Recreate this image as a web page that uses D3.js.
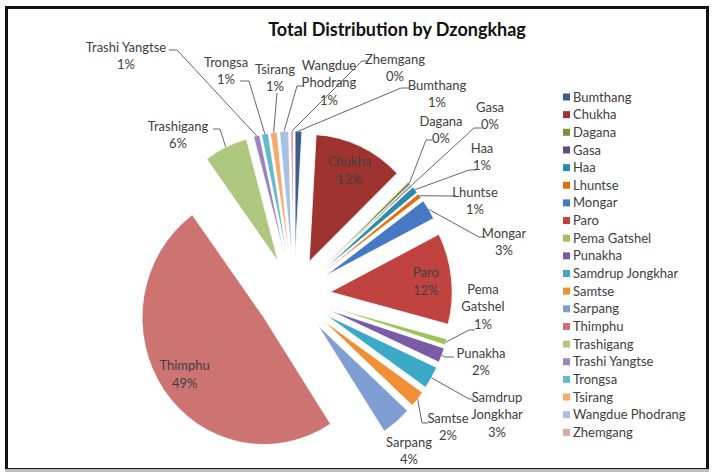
<!DOCTYPE html>
<html>
<head>
<meta charset="utf-8">
<script src="https://cdn.jsdelivr.net/npm/d3@7"></script>
<style>
  body { margin: 0; background: #fff; }
  text { font-family: Lato, "Open Sans", sans-serif; }
</style>
</head>
<body>
<svg id="chart" width="713" height="474"></svg>
<script>
// Share of the total (percent) for each dzongkhag, in legend order
const dzongkhags = [
  "Bumthang", "Chukha", "Dagana", "Gasa", "Haa", "Lhuntse", "Mongar", "Paro",
  "Pema Gatshel", "Punakha", "Samdrup Jongkhar", "Samtse", "Sarpang", "Thimphu",
  "Trashigang", "Trashi Yangtse", "Trongsa", "Tsirang", "Wangdue Phodrang", "Zhemgang"
];
const shares = [
  0.9, 11.9, 0.4, 0.2, 0.9, 0.6, 2.6, 11.6,
  0.8, 1.9, 2.9, 2.1, 4.0, 49.2,
  5.8, 0.8, 0.9, 0.9, 1.2, 0.4
];
const sliceColors = [
  "#3a5f8f", "#9e3330", "#77933c", "#5f4b8b", "#2f8ca8", "#e46c0a", "#4678c4", "#c0433f",
  "#9fc25a", "#7a5ba6", "#3ca9c7", "#f28e33", "#7f9ed4", "#cd7473",
  "#aec97f", "#9a85be", "#66bad0", "#f8aa6c", "#a8c0e4", "#ddaaa9"
];
const chartTitle = "Total Distribution by Dzongkhag";

// Slices whose label sits inside the wedge
const insideLabels = new Set(["Chukha", "Paro", "Thimphu"]);

// Placement of the outside labels: text block centre (x, y of first line),
// leader knee (kx, ky) and a short horizontal dash towards the text
const labelLayout = {
  "Bumthang":         { x: 437, y: 85,  kx: 401, ky: 88,  dash: 9 },
  "Dagana":           { x: 441, y: 121, kx: 426, ky: 140, dash: 6 },
  "Gasa":             { x: 490, y: 107, kx: 474, ky: 128, dash: 8 },
  "Haa":              { x: 482, y: 148, kx: 469, ky: 170, dash: 7 },
  "Lhuntse":          { x: 475, y: 192, kx: 450, ky: 196, dash: 6 },
  "Mongar":           { x: 504, y: 233, kx: 479, ky: 237, dash: 7 },
  "Pema Gatshel":     { x: 483, y: 289, kx: 469, ky: 330, dash: 6, wrap: true },
  "Punakha":          { x: 481, y: 353, kx: 445, ky: 357, dash: 9 },
  "Samdrup Jongkhar": { x: 497, y: 397, kx: 469, ky: 399, dash: 5, wrap: true },
  "Samtse":           { x: 448, y: 418, kx: 422, ky: 423, dash: 6 },
  "Sarpang":          { x: 409, y: 442, noLeader: true },
  "Trashigang":       { x: 178, y: 126, kx: 220, ky: 129, dash: -7 },
  "Trashi Yangtse":   { x: 126, y: 47,  kx: 177, ky: 50,  dash: -8 },
  "Trongsa":          { x: 226, y: 62,  kx: 249, ky: 81,  dash: -9 },
  "Tsirang":          { x: 275, y: 69,  kx: 277, ky: 93,  dash: 0 },
  "Wangdue Phodrang": { x: 329, y: 65,  kx: 297, ky: 86,  dash: 6, wrap: true },
  "Zhemgang":         { x: 395, y: 59,  kx: 362, ky: 61,  dash: 5 }
};

const W = 713, H = 474;
const cx = 294, cy = 296;       // pie centre
const radius = 127;             // wedge radius
const explode = 38;             // distance each wedge is pulled out
const sx = 0.96;                // horizontal squeeze of the pie
const fontSize = 13;
const lineGap = 17.5;
const textColor = "#404040";

const svg = d3.select("#chart");

// Chart frame
svg.append("rect").attr("width", W).attr("height", H).attr("fill", "#fff");
svg.append("rect")
  .attr("x", 6.5).attr("y", 7.5).attr("width", 701).attr("height", 462)
  .attr("fill", "#fff").attr("stroke", "#111").attr("stroke-width", 3);
svg.append("line")
  .attr("x1", 5).attr("x2", 709).attr("y1", 470.5).attr("y2", 470.5)
  .attr("stroke", "#bdbdbd").attr("stroke-width", 3);

// Title
svg.append("text")
  .attr("x", 397).attr("y", 36)
  .attr("text-anchor", "middle")
  .attr("font-size", 18).attr("font-weight", "bold")
  .attr("fill", "#111")
  .text(chartTitle);

const rows = dzongkhags.map((name, i) => ({ name, value: shares[i], color: sliceColors[i] }));
const total = d3.sum(rows, d => d.value);
const pct = v => Math.round(v / total * 100) + "%";

const pie = d3.pie().value(d => d.value).sort(null).startAngle(0).endAngle(2 * Math.PI);
const arcs = pie(rows);
const arc = d3.arc().innerRadius(0).outerRadius(radius);

const midAngle = a => (a.startAngle + a.endAngle) / 2;
// Pie-local point (before squeeze) at distance r along a wedge's bisector, plus the explode offset
const local = (a, r) => {
  const t = midAngle(a);
  return [(explode + r) * Math.sin(t), -(explode + r) * Math.cos(t)];
};
const toPage = ([x, y]) => [cx + sx * x, cy + y];

// Wedges
const pieG = svg.append("g").attr("transform", `translate(${cx},${cy}) scale(${sx},1)`);
pieG.selectAll("path.slice")
  .data(arcs)
  .join("path")
  .attr("class", "slice")
  .attr("transform", a => {
    const t = midAngle(a);
    return `translate(${explode * Math.sin(t)},${-explode * Math.cos(t)})`;
  })
  .attr("d", arc)
  .attr("fill", a => a.data.color)
  .attr("stroke", "#fff")
  .attr("stroke-width", 0.8)
  .attr("vector-effect", "non-scaling-stroke");

// Labels
const labelG = svg.append("g")
  .attr("font-size", fontSize)
  .attr("fill", textColor)
  .attr("text-anchor", "middle");

function writeBlock(x, y, lines) {
  const t = labelG.append("text").attr("x", x).attr("y", y);
  lines.forEach((ln, i) => {
    t.append("tspan").attr("x", x).attr("dy", i === 0 ? "0.35em" : lineGap).text(ln);
  });
}

arcs.forEach(a => {
  const name = a.data.name;
  const valueText = pct(a.data.value);
  if (insideLabels.has(name)) {
    const [x, y] = toPage(local(a, radius * 0.79));
    writeBlock(x, y - lineGap / 2, [name, valueText]);
    return;
  }
  const L = labelLayout[name];
  if (!L) return;
  const lines = L.wrap ? name.split(" ").concat([valueText]) : [name, valueText];
  writeBlock(L.x, L.y, lines);
  if (L.noLeader) return;
  const p0 = toPage(local(a, radius));
  const pts = [p0, [L.kx, L.ky]];
  if (L.dash) pts.push([L.kx + L.dash, L.ky]);
  svg.append("path")
    .attr("d", d3.line()(pts))
    .attr("fill", "none")
    .attr("stroke", "#555")
    .attr("stroke-width", 0.9);
});

// Legend
const legendX = 563, legendY = 97, legendStep = 17.65;
const legend = svg.append("g").attr("font-size", fontSize).attr("fill", textColor);
const item = legend.selectAll("g")
  .data(rows)
  .join("g")
  .attr("transform", (d, i) => `translate(${legendX},${legendY + i * legendStep})`);
item.append("rect")
  .attr("x", 0).attr("y", -3.5).attr("width", 7).attr("height", 7)
  .attr("fill", d => d.color);
item.append("text")
  .attr("x", 10).attr("y", 0).attr("dy", "0.35em")
  .text(d => d.name);
</script>
</body>
</html>
